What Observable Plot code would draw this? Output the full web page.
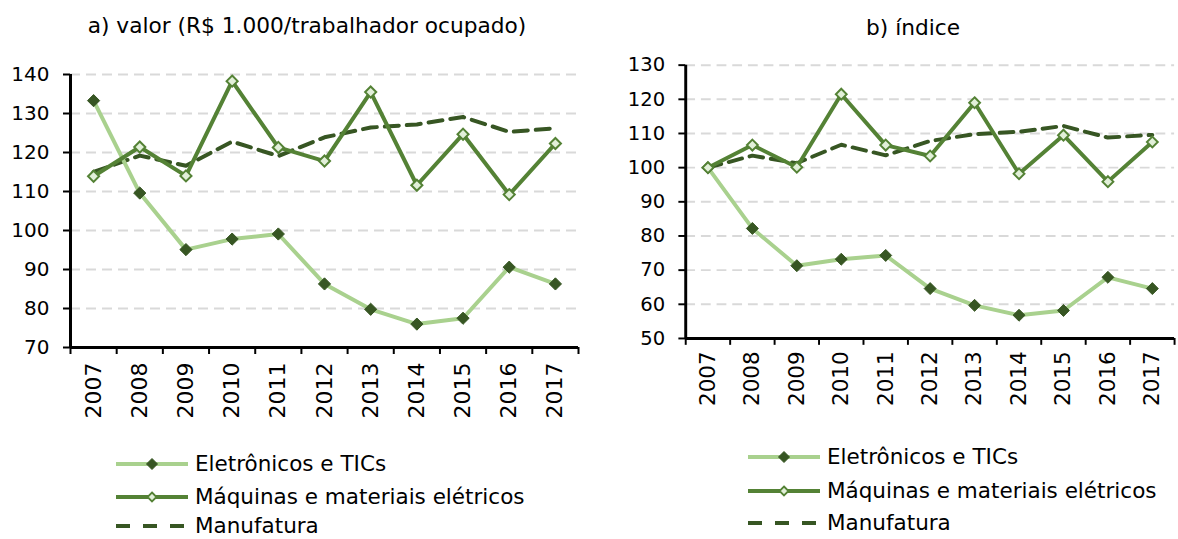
<!DOCTYPE html>
<html><head><meta charset="utf-8">
<script src="https://cdn.jsdelivr.net/npm/d3@7"></script>
<script src="https://cdn.jsdelivr.net/npm/@observablehq/plot@0.6"></script>
<style>
html,body{margin:0;padding:0;background:#fff;overflow:hidden}
#wrap{position:relative;width:1178px;height:539px;overflow:hidden;font-family:"DejaVu Sans",sans-serif;color:#000}
.panel{position:absolute;top:0}
.title{position:absolute;font-size:21.7px;line-height:24px;white-space:nowrap;transform:translateX(-50%)}
.row{position:absolute;display:flex;align-items:center;white-space:nowrap;font-size:21.5px;line-height:22px;height:22px}
.row svg{margin-right:7px;flex:none}
</style></head>
<body>
<div id="wrap">
  <div class="title" style="left:307px;top:14px">a) valor (R$ 1.000/trabalhador ocupado)</div>
  <div class="title" style="left:913px;top:16px">b) índice</div>
  <div class="panel" id="pa" style="left:0"></div>
  <div class="panel" id="pb" style="left:600px"></div>
  <div id="lega"></div>
  <div id="legb"></div>
</div>
<script>
const years = [2007, 2008, 2009, 2010, 2011, 2012, 2013, 2014, 2015, 2016, 2017];
const seriesNames = ["Eletrônicos e TICs", "Máquinas e materiais elétricos", "Manufatura"];

// a) valor (R$ 1.000/trabalhador ocupado)
const eletronicosValor = [133.3, 109.6, 95.1, 97.8, 99.1, 86.3, 79.8, 76.0, 77.5, 90.6, 86.3];
const maquinasValor    = [113.9, 121.4, 114.0, 138.3, 121.3, 117.8, 135.5, 111.6, 124.7, 109.2, 122.3];
const manufaturaValor  = [115.0, 119.2, 116.6, 122.8, 119.1, 123.9, 126.4, 127.2, 129.1, 125.3, 126.2];
const ticksValor = [70, 80, 90, 100, 110, 120, 130, 140];

// b) índice
const eletronicosIndice = [100, 82.2, 71.3, 73.2, 74.3, 64.6, 59.7, 56.8, 58.2, 67.9, 64.6];
const maquinasIndice    = [100, 106.6, 100.1, 121.5, 106.6, 103.4, 119.0, 98.2, 109.5, 95.9, 107.5];
const manufaturaIndice  = [100, 103.5, 101.3, 106.7, 103.6, 107.8, 109.8, 110.5, 112.2, 108.8, 109.6];
const ticksIndice = [50, 60, 70, 80, 90, 100, 110, 120, 130];

const colors = {light: "#a9d18e", dark: "#375623", mid: "#548235", markFill: "#e2f0d9", grid: "#d9d9d9"};

function rows(values) {
  return years.map((y, i) => ({year: y, value: values[i]}));
}

function panel(el, vals, yTicks, m, labelDy) {
  const [el1, maq, man] = vals.map(rows);
  const boundaries = [...years.map(y => y - 0.5), years[years.length - 1] + 0.5];
  const p = Plot.plot({
    width: 590, height: 430,
    marginLeft: m[0], marginRight: m[1], marginTop: m[2], marginBottom: m[3],
    style: {fontFamily: "DejaVu Sans", fontSize: "20px", color: "#000", background: "transparent", overflow: "visible"},
    x: {type: "linear", domain: [boundaries[0], boundaries[boundaries.length - 1]], axis: null, label: null},
    y: {domain: [yTicks[0], yTicks[yTicks.length - 1]], axis: null, label: null},
    marks: [
      Plot.ruleY(yTicks.slice(1), {stroke: colors.grid, strokeWidth: 2, strokeDasharray: "10,6"}),
      Plot.line(man, {x: "year", y: "value", stroke: colors.dark, strokeWidth: 4, strokeDasharray: "14,8"}),
      Plot.line(el1, {x: "year", y: "value", stroke: colors.light, strokeWidth: 4}),
      Plot.line(maq, {x: "year", y: "value", stroke: colors.mid, strokeWidth: 4}),
      Plot.dot(el1, {x: "year", y: "value", symbol: "diamond2", r: 5.5, fill: colors.dark, stroke: colors.dark, strokeWidth: 1}),
      Plot.dot(maq, {x: "year", y: "value", symbol: "diamond2", r: 5, fill: colors.markFill, stroke: colors.mid, strokeWidth: 2}),
      Plot.ruleY(yTicks.slice(0, 1), {stroke: "#000", strokeWidth: 3}),
      Plot.ruleX(boundaries.slice(0, 1), {stroke: "#000", strokeWidth: 3}),
      Plot.axisY({ticks: yTicks, tickSize: 7, tickPadding: 14, tickFormat: d => String(d), stroke: "#000", strokeWidth: 2, label: null, fontSize: 20}),
      Plot.axisX({ticks: boundaries, tickSize: 7, tickFormat: () => "", stroke: "#000", strokeWidth: 2, label: null}),
      Plot.text(years, {x: d => d, text: d => String(d), frameAnchor: "bottom", dy: labelDy, rotate: -90, textAnchor: "end", lineAnchor: "middle", fontSize: 22, fill: "#000"})
    ]
  });
  document.getElementById(el).appendChild(p);
}

panel("pa", [eletronicosValor, maquinasValor, manufaturaValor], ticksValor, [70, 12, 74, 83], 15);
panel("pb", [eletronicosIndice, maquinasIndice, manufaturaIndice], ticksIndice, [87, 4, 66, 85], 13);

function swatch(kind) {
  const ns = "http://www.w3.org/2000/svg";
  const s = document.createElementNS(ns, "svg");
  s.setAttribute("width", 72); s.setAttribute("height", 16);
  const line = document.createElementNS(ns, "line");
  line.setAttribute("x1", 0); line.setAttribute("x2", 72);
  line.setAttribute("y1", 8); line.setAttribute("y2", 8);
  line.setAttribute("stroke-width", 4);
  if (kind === 0) line.setAttribute("stroke", colors.light);
  if (kind === 1) line.setAttribute("stroke", colors.mid);
  if (kind === 2) { line.setAttribute("stroke", colors.dark); line.setAttribute("stroke-dasharray", "14,13"); }
  s.appendChild(line);
  if (kind < 2) {
    const d = document.createElementNS(ns, "path");
    const r = kind === 0 ? 5.5 : 4.5;
    d.setAttribute("d", `M36,${8 - r}L${36 + r},8L36,${8 + r}L${36 - r},8Z`);
    d.setAttribute("fill", kind === 0 ? colors.dark : colors.markFill);
    d.setAttribute("stroke", kind === 0 ? colors.dark : colors.mid);
    d.setAttribute("stroke-width", kind === 0 ? 1 : 1.8);
    s.appendChild(d);
  }
  return s;
}

function legend(id, left, tops) {
  const c = document.getElementById(id);
  seriesNames.forEach((name, i) => {
    const r = document.createElement("div");
    r.className = "row";
    r.style.left = left + "px";
    r.style.top = tops[i] + "px";
    r.appendChild(swatch(i));
    const t = document.createElement("span");
    t.textContent = name;
    r.appendChild(t);
    c.appendChild(r);
  });
}
legend("lega", 116, [453, 486, 515]);
legend("legb", 748, [446, 480, 512]);
</script>
</body></html>
